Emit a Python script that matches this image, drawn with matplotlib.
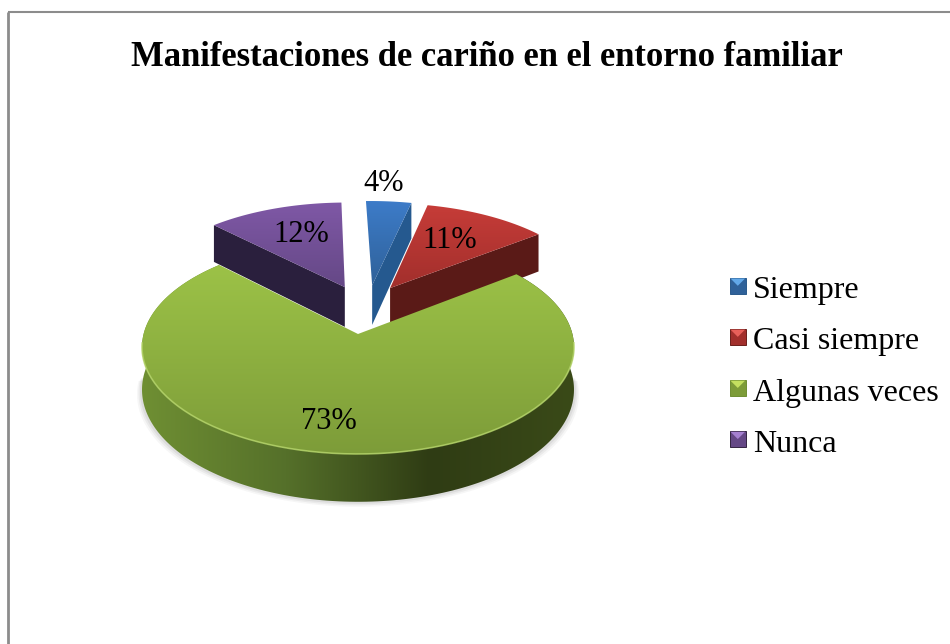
import matplotlib
matplotlib.use("Agg")
import matplotlib.pyplot as plt
import numpy as np
from matplotlib.colors import LinearSegmentedColormap
from matplotlib.legend_handler import HandlerBase
from matplotlib.patches import Polygon, Rectangle

plt.rcParams['font.family'] = ['Liberation Serif', 'DejaVu Serif']

# ============= data
titulo = "Manifestaciones de cariño en el entorno familiar"
categorias = ["Siempre", "Casi siempre", "Algunas veces", "Nunca"]
valores = [4, 11, 73, 12]

# ============= colours, one per slice: top (light, dark), wall (light, dark), cut face
top_light = ["#3d7cc9", "#c63c38", "#9cc247", "#7f58a6"]
top_dark  = ["#2f6199", "#a22f2c", "#7d9c39", "#654886"]
wall_cols = [["#2a5a8c", "#1d4470"], ["#6b1f1b", "#4f1512"],
             ["#6f8f33", "#55702a", "#2f3c14", "#3a4a18"], ["#332440", "#241a33"]]
cut_cols  = ["#25598f", "#5a1a17", "#3f4f1c", "#2a1f3d"]

# ============= pie geometry in pixels (perspective of a tilted disc)
cx, cy = 358, 347
rot = -1.5            # clock angle of the first slice
persp = 0.1215
ax_x, ax_y = 214.4, 105.4
apex_up = 13
depth = 42
# explosion of each slice, in disc units
explode = [(0.07, 0.49), (0.158, 0.46), (0.0, 0.0), (-0.065, 0.47)]
# which cut face shows: index in the rim (0 = start, -1 = end)
cut_side = [-1, -1, None, 0]

my_dpi = 100
fig = plt.figure(figsize=(950/my_dpi, 644/my_dpi), dpi=my_dpi)
ax = fig.add_axes([0, 0, 1, 1])


def project(u, v, down=0.0):
  w = 1 + persp*v
  x = cx + ax_x*u/w
  y = cy - (ax_y*v/w + apex_up) + down*depth/w
  return x, y


def gradient_fill(pts, colors, vertical=True, zorder=2):
  pts = np.array(pts)
  cmap = LinearSegmentedColormap.from_list("g", colors)
  grad = np.linspace(0, 1, 256)
  grad = grad[:, None] if vertical else grad[None, :]
  im = ax.imshow(grad, cmap=cmap, aspect="auto", zorder=zorder, interpolation="bilinear",
                 extent=(pts[:, 0].min(), pts[:, 0].max(), pts[:, 1].max(), pts[:, 1].min()))
  patch = Polygon(pts, closed=True, transform=ax.transData, facecolor="none", edgecolor="none")
  ax.add_patch(patch)
  im.set_clip_path(patch)


def draw_slice(i, a0, a1, zorder):
  u0, v0 = explode[i]
  t = np.radians(90 - np.linspace(a0, a1, 200))
  ru, rv = u0 + np.cos(t), v0 + np.sin(t)
  rim_top = np.array(project(ru, rv)).T
  rim_bot = np.array(project(ru, rv, 1)).T
  apex_top = project(u0, v0)
  apex_bot = project(u0, v0, 1)

  if cut_side[i] is None:
    # outer wall, only the big slice shows it
    gradient_fill(np.vstack([rim_top, rim_bot[::-1]]), wall_cols[i], vertical=False, zorder=zorder)
  else:
    # cut face of the small slices
    s = cut_side[i]
    ax.add_patch(Polygon([rim_top[s], apex_top, apex_bot, rim_bot[s]], closed=True, facecolor=cut_cols[i],
                         edgecolor="none", zorder=zorder + 0.1))
  # top surface
  gradient_fill(np.vstack([[apex_top], rim_top]), [top_light[i], top_dark[i]], zorder=zorder + 0.2)
  if i == 2:
    # light bevel on the front edge
    front = rim_top[(rim_top[:, 1] > cy - 5)]
    ax.plot(front[:, 0], front[:, 1], color="#b4d468", linewidth=1.2, alpha=0.8, zorder=zorder + 0.3)


def draw_shadow():
  # only the front half, the back of the pie has no shadow
  t = np.radians(np.linspace(180, 360, 200))
  ru, rv = np.cos(t), np.sin(t)
  for grow, alpha in ((5, 0.05), (3.5, 0.07), (2, 0.09)):
    x, y = project(ru, rv, 1)
    x = x + np.sign(x - cx)*grow*np.abs(np.cos(t))
    y = y + grow
    ax.fill(x, y, color="#555555", alpha=alpha, linewidth=0, zorder=1)


# ============= frame
ax.plot([8, 8], [644, 12], color="#8c8c8c", linewidth=2, zorder=1, solid_capstyle="butt")
ax.plot([8, 950], [12, 12], color="#8c8c8c", linewidth=1.5, zorder=1, solid_capstyle="butt")

# ============= slices, back ones first
angles = rot + np.cumsum([0] + valores)*360/sum(valores)
draw_shadow()
for i, z in ((3, 2), (1, 3), (0, 4), (2, 5)):
  draw_slice(i, angles[i], angles[i + 1], z)

# ============= labels
label_pos = [(384, 183), (450, 240), (329, 421), (301, 234)]
for v, (lx, ly) in zip(valores, label_pos):
  ax.text(lx, ly, "{}%".format(v), fontsize=22, ha="center", va="center", color="black", zorder=10)

ax.text(487, 57, titulo, fontsize=24.9, fontweight="bold", ha="center", va="center", color="black")


# ============= legend with bevelled keys
class BevelHandler(HandlerBase):
  def create_artists(self, legend, orig, xd, yd, width, height, fontsize, trans):
    side = 11.5
    x0 = xd*-1 + (width - side)/2
    y0 = yd*-1 + (height - side)/2 + 1
    base = Rectangle((x0, y0), side, side, facecolor=orig.get_facecolor(), edgecolor=orig.get_edgecolor(),
                     linewidth=0.7, transform=trans)
    tri = Polygon([(x0 + 0.5, y0 + side - 0.5), (x0 + side - 0.5, y0 + side - 0.5), (x0 + side/2, y0 + side/2)],
                  closed=True, facecolor=orig.get_label(), edgecolor="none", transform=trans)
    return [base, tri]


legend_light = ["#62a8e8", "#e8605a", "#c4e060", "#a580d0"]
handles = [Rectangle((0, 0), 1, 1, facecolor=top_dark[i], edgecolor=wall_cols[i][0], label=legend_light[i])
           for i in range(len(categorias))]
leg = ax.legend(handles, categorias, loc="upper left", bbox_to_anchor=(729/950, 1 - 276/644),
                bbox_transform=ax.transAxes, frameon=False, fontsize=23, labelspacing=0.68,
                handlelength=0.55, handleheight=0.7, handletextpad=0.2, borderpad=0, borderaxespad=0,
                handler_map={Rectangle: BevelHandler()})

ax.set_xlim(0, 950)
ax.set_ylim(644, 0)
ax.axis("off")

plt.savefig("out.png", dpi=my_dpi)
